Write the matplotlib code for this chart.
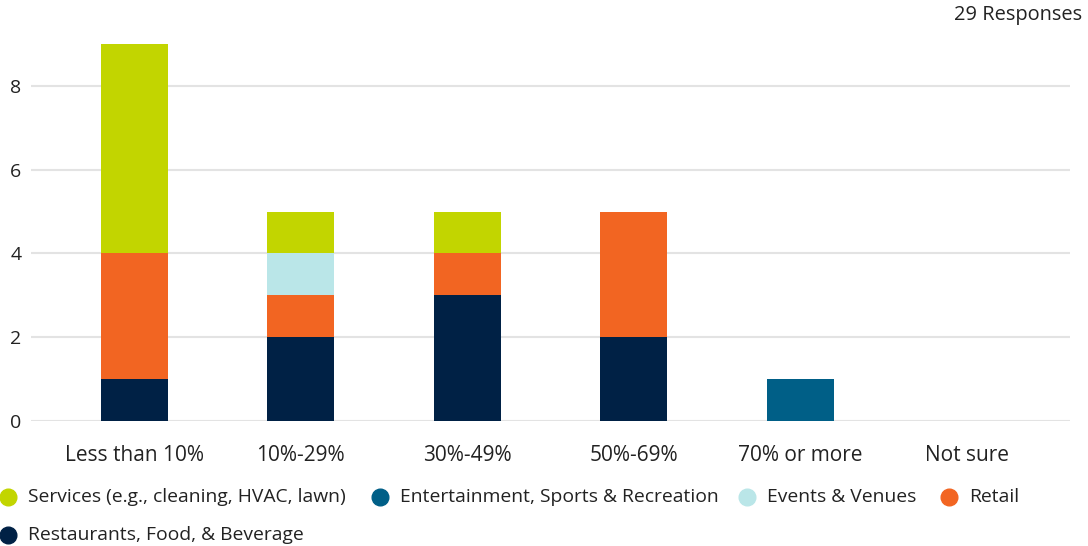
import matplotlib
matplotlib.use("Agg")
import matplotlib.pyplot as plt
import numpy as np
from matplotlib.lines import Line2D

plt.rcParams['font.family'] = ['Open Sans', 'DejaVu Sans']

categories = ["Less than 10%", "10%-29%", "30%-49%", "50%-69%", "70% or more", "Not sure"]

# legend order (top of stack first)
series_names = [
    "Services (e.g., cleaning, HVAC, lawn)",
    "Entertainment, Sports & Recreation",
    "Events & Venues",
    "Retail",
    "Restaurants, Food, & Beverage",
]
series_colors = ["#C2D500", "#005F87", "#BAE6E8", "#F26522", "#002145"]

services = [5, 1, 1, 0, 0, 0]
entertainment = [0, 0, 0, 0, 1, 0]
events = [0, 1, 0, 0, 0, 0]
retail = [3, 1, 1, 3, 0, 0]
restaurants = [1, 2, 3, 2, 0, 0]
series_values = [services, entertainment, events, retail, restaurants]

y_ticks = [0, 2, 4, 6, 8]
responses_label = "29 Responses"

text_color = "#222222"

fig = plt.figure(figsize=(10.88, 5.46), dpi=100)
ax = fig.add_axes([31 / 1088, 125 / 546, (1070 - 31) / 1088, (421 - 44) / 546])

x = np.arange(len(categories))
bottom = np.zeros(len(categories))
# stack from the bottom: restaurants first, services last
for name, color, vals in reversed(list(zip(series_names, series_colors, series_values))):
    vals = np.array(vals, dtype=float)
    ax.bar(x, vals, width=0.4, bottom=bottom, color=color, label=name, zorder=3)
    bottom += vals

ax.set_xlim(-0.62, len(categories) - 1 + 0.62)
ax.set_ylim(0, 9)
ax.set_yticks(y_ticks)
ax.set_xticks(x)
ax.set_xticklabels(categories)
ax.yaxis.grid(True, color="#e3e3e3", linewidth=1.5, zorder=0)
ax.set_axisbelow(True)
for s in ax.spines.values():
    s.set_visible(False)
ax.tick_params(axis="both", length=0, colors=text_color)
ax.tick_params(axis="x", pad=17, labelsize=15)
ax.tick_params(axis="y", pad=7, labelsize=14)
for lbl in ax.get_yticklabels():
    lbl.set_horizontalalignment("right")

fig.text(1082 / 1088, 1 - 15 / 546, responses_label, ha="right", va="center",
         fontsize=14.4, color=text_color)

# legend laid out in two rows
legend_pos = [(8, 497), (380, 497), (747, 497), (949, 497), (8, 535)]
for (px, py), name, color in zip(legend_pos, series_names, series_colors):
    fx, fy = px / 1088, 1 - py / 546
    fig.add_artist(Line2D([fx], [fy], marker="o", markersize=12, color=color,
                          linestyle="none", transform=fig.transFigure))
    fig.text(fx + 20 / 1088, fy, name, ha="left", va="center", fontsize=13.9,
             color=text_color)

fig.savefig("out.png", dpi=100)
